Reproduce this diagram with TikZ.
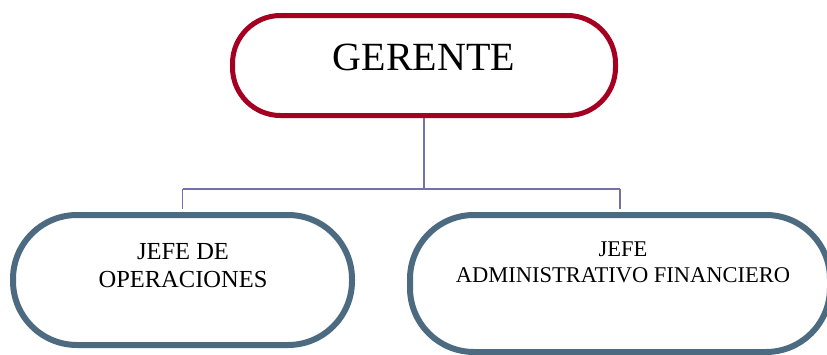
\documentclass[tikz,border=0pt]{standalone}
\usepackage{fontspec}
\setmainfont{Liberation Serif}
\definecolor{topred}{HTML}{A50021}
\definecolor{slate}{HTML}{4D6B80}
\definecolor{linkc}{HTML}{7272A8}
\begin{document}
\begin{tikzpicture}[x=1pt,y=-1pt,
  topbox/.style={draw=topred, line width=5pt, fill=white, rectangle,
    rounded corners=48pt, minimum width=383pt, minimum height=100pt, inner sep=0pt},
  subbox/.style={draw=slate, line width=6pt, fill=white, rectangle,
    rounded corners=64pt, inner sep=0pt},
  bigtext/.style={font=\fontsize{40}{48}\selectfont, inner sep=0pt},
  lefttext/.style={font=\fontsize{24.5}{28}\selectfont, align=center, inner sep=0pt},
  righttext/.style={font=\fontsize{22.5}{26}\selectfont, align=center, inner sep=0pt},
  link/.style={draw=linkc, line width=1.3pt}]
\useasboundingbox (0,0) rectangle (827,354);
\begin{scope}
\clip (0,0) rectangle (827,354);
\coordinate (bus) at (0,189);
\node[topbox] (g) at (424,65.5) {};
\node[subbox, minimum width=339pt, minimum height=130pt] (jo) at (182.5,280) {};
\node[subbox, minimum width=420pt, minimum height=137pt] (ja) at (620,283.5) {};
\draw[link] (g.south) -- (g.south |- bus);
\draw[link] (jo.north |- bus) -- (ja.north |- bus);
\draw[link] (jo.north |- bus) -- ([yshift=3pt]jo.north);
\draw[link] (ja.north |- bus) -- ([yshift=3pt]ja.north);
\end{scope}
\node[bigtext] (tg) at (424,57) {GERENTE};
\node[lefttext] (to) at (183,266) {JEFE DE\\OPERACIONES};
\node[righttext] (ta) at (623,262.5) {JEFE\\ADMINISTRATIVO FINANCIERO};
\end{tikzpicture}
\end{document}
